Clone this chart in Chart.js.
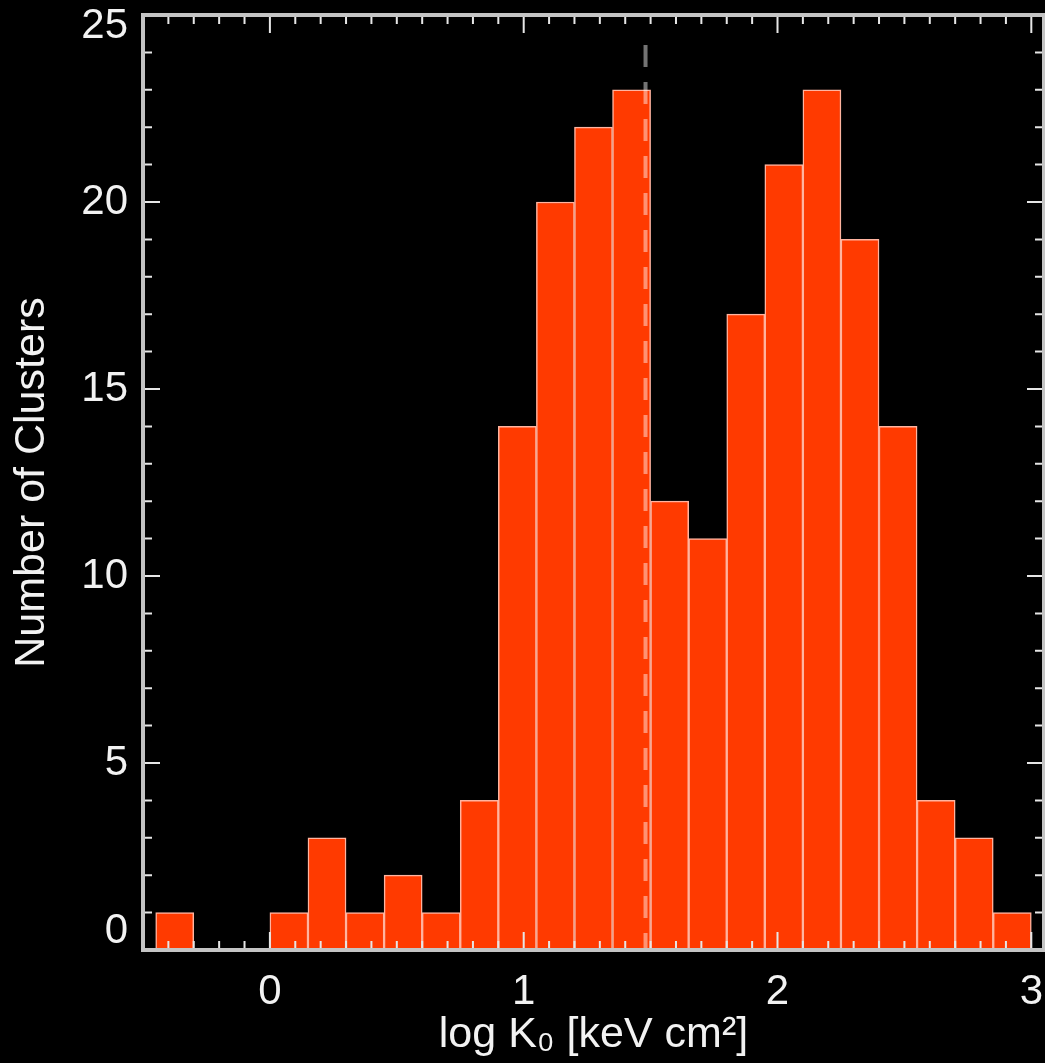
<!DOCTYPE html>
<html>
<head>
<meta charset="utf-8">
<script src="https://cdn.jsdelivr.net/npm/chart.js@4.4.0/dist/chart.umd.min.js"></script>
<style>
  html, body { margin: 0; padding: 0; background: #000; }
  #wrap { width: 1045px; height: 1063px; }
</style>
</head>
<body>
<div id="wrap"><canvas id="hist"></canvas></div>
<script>
// histogram bins (width 0.15 in log K0) and counts
const binCenters = [-0.375, -0.225, -0.075, 0.075, 0.225, 0.375, 0.525, 0.675, 0.825, 0.975,
                    1.125, 1.275, 1.425, 1.575, 1.725, 1.875, 2.025, 2.175, 2.325, 2.475,
                    2.625, 2.775, 2.925];
const clusterCounts = [1, 0, 0, 1, 3, 1, 2, 1, 4, 14,
                       20, 22, 23, 12, 11, 17, 21, 23, 19, 14,
                       4, 3, 1];
const xTickValues = [0, 1, 2, 3];
const yTickValues = [0, 5, 10, 15, 20, 25];
const dividerX = 1.48;

const fontFamily = "'Liberation Sans', Helvetica, Arial, sans-serif";

const framePlugin = {
    id: 'frame',
    afterDatasetsDraw(chart) {
        const ctx = chart.ctx;
        const xs = chart.scales.x;
        const ys = chart.scales.y;
        const {left, right, top, bottom} = chart.chartArea;

        // dashed divider line
        ctx.save();
        ctx.strokeStyle = 'rgba(255,255,255,0.45)';
        ctx.lineWidth = 4;
        ctx.setLineDash([22, 15]);
        ctx.beginPath();
        ctx.moveTo(xs.getPixelForValue(dividerX), ys.getPixelForValue(24.2));
        ctx.lineTo(xs.getPixelForValue(dividerX), bottom);
        ctx.stroke();
        ctx.restore();

        // inward tick marks on all four sides
        ctx.save();
        ctx.strokeStyle = '#e6e6e6';
        ctx.lineWidth = 2;
        ctx.beginPath();
        for (let i = -5; i <= 30; i++) {
            const px = xs.getPixelForValue(i / 10);
            const len = (i % 10 === 0) ? 18 : 9;
            ctx.moveTo(px, top);
            ctx.lineTo(px, top + len);
            ctx.moveTo(px, bottom);
            ctx.lineTo(px, bottom - len);
        }
        for (let v = 0; v <= 25; v++) {
            const py = ys.getPixelForValue(v);
            const len = (v % 5 === 0) ? 17 : 9;
            ctx.moveTo(left, py);
            ctx.lineTo(left + len, py);
            ctx.moveTo(right, py);
            ctx.lineTo(right - len, py);
        }
        ctx.stroke();

        // axis box
        ctx.strokeStyle = '#c4c4c4';
        ctx.lineWidth = 4;
        ctx.strokeRect(left, top, right - left, bottom - top);
        ctx.restore();
    }
};

const ctx = document.getElementById('hist').getContext('2d');

new Chart(ctx, {
    type: 'bar',
    data: {
        datasets: [{
            label: 'Clusters',
            data: binCenters.map((c, i) => ({x: c, y: clusterCounts[i]})),
            backgroundColor: '#ff3a00',
            borderColor: '#ffb4a0',
            borderWidth: c => (c.raw && c.raw.y > 0) ? 1.5 : 0,
            barPercentage: 1,
            categoryPercentage: 1
        }]
    },
    options: {
        responsive: true,
        maintainAspectRatio: false,
        animation: false,
        layout: {
            padding: {top: 15, right: 1, left: 0, bottom: 0}
        },
        plugins: {
            legend: { display: false },
            tooltip: { enabled: false }
        },
        scales: {
            x: {
                type: 'linear',
                min: -0.5,
                max: 3.05,
                offset: false,
                grid: { display: false, drawTicks: false, offset: false },
                border: { display: false },
                afterBuildTicks: s => { s.ticks = xTickValues.map(v => ({value: v})); },
                afterFit: s => { s.height = 113; s.paddingLeft = 0; s.paddingRight = 0; },
                ticks: {
                    color: '#f2f2f2',
                    padding: 17,
                    maxRotation: 0,
                    font: { family: fontFamily, size: 42 }
                },
                title: {
                    display: true,
                    text: 'log K₀ [keV cm²]',
                    color: '#f2f2f2',
                    padding: {top: 0, bottom: 2},
                    font: { family: fontFamily, size: 43 }
                }
            },
            y: {
                min: 0,
                max: 25,
                grid: { display: false, drawTicks: false },
                border: { display: false },
                afterBuildTicks: s => { s.ticks = yTickValues.map(v => ({value: v})); },
                afterFit: s => { s.width = 143; s.paddingTop = 0; s.paddingBottom = 0; },
                ticks: {
                    color: '#f2f2f2',
                    padding: 15,
                    // the end labels sit inside the frame, as in the original plot
                    callback: v => v === 25 ? ['', '25'] : (v === 0 ? ['0', ''] : String(v)),
                    font: c => {
                        const v = c.tick ? c.tick.value : null;
                        const lh = v === 25 ? '22px' : (v === 0 ? '38px' : 1.2);
                        return { family: fontFamily, size: 42, lineHeight: lh };
                    }
                },
                title: {
                    display: true,
                    text: 'Number of Clusters',
                    color: '#f2f2f2',
                    padding: {top: 6, bottom: 0},
                    font: { family: fontFamily, size: 43 }
                }
            }
        }
    },
    plugins: [framePlugin]
});
</script>
</body>
</html>
